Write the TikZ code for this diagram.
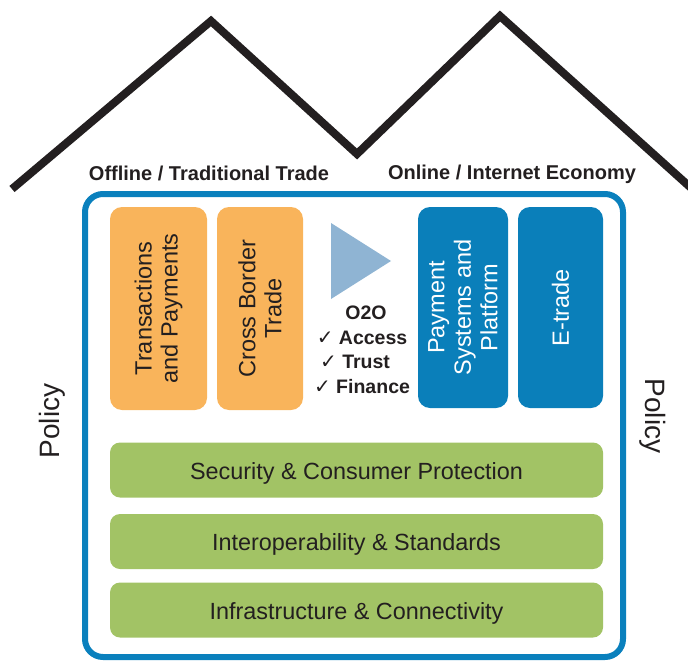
\documentclass[tikz,border=0pt]{standalone}
\usepackage{fontspec}
\setmainfont{Liberation Sans}
\newfontfamily\symfont{DejaVu Sans}
\definecolor{orangebox}{HTML}{F9B45B}
\definecolor{bluebox}{HTML}{0A7FBA}
\definecolor{outerblue}{HTML}{0A80BD}
\definecolor{greenbar}{HTML}{A2C365}
\definecolor{tri}{HTML}{8FB4D3}
\definecolor{ink}{HTML}{231F20}
\tikzset{
  obox/.style={fill=orangebox, rounded corners=12pt, inner sep=0pt, align=center, text=ink, font=\fontsize{23.5}{26}\selectfont},
  bbox/.style={fill=bluebox, rounded corners=12pt, inner sep=0pt, align=center, text=white, font=\fontsize{23.5}{26.5}\selectfont},
  gbar/.style={fill=greenbar, rounded corners=10pt, inner sep=0pt, text=ink, font=\fontsize{23.4}{26}\selectfont, minimum width=493pt, minimum height=55pt, text height=20pt, text depth=2pt},
  hdr/.style={inner sep=0pt, text=ink, font=\bfseries\fontsize{20}{22}\selectfont},
  otxt/.style={inner sep=0pt, text=ink, font=\bfseries\fontsize{19.5}{22}\selectfont},
  pol/.style={inner sep=0pt, text=ink, font=\fontsize{28}{32}\selectfont}
}
\newcommand{\ck}{{\symfont\fontsize{20}{20}\selectfont ✓}}
\begin{document}
\begin{tikzpicture}[x=1pt,y=-1pt]
\useasboundingbox (0,0) rectangle (688,661);
\clip (0,0) rectangle (688,661);
% roof
\coordinate (r1) at (12,189);
\coordinate (r2) at (211,21);
\coordinate (r3) at (357,154);
\coordinate (r4) at (500,16);
\coordinate (r5) at (700,196);
\draw[line width=8pt, line join=miter, ink] (r1) -- (r2) -- (r3) -- (r4) -- (r5);
% outer box
\draw[outerblue, line width=6pt, rounded corners=18pt] (85,194) rectangle (623,657);
% headers
\node[hdr] (h1) at (209,173) {Offline / Traditional Trade};
\node[hdr] (h2) at (512,174) {Online / Internet Economy};
% orange boxes
\node[obox, rotate=90, minimum width=203pt, minimum height=97pt] (tp) at (158.5,308.5) {Transactions\\and Payments};
\node[obox, rotate=90, minimum width=203pt, minimum height=86pt] (cb) at (260,308.5) {Cross Border\\Trade};
% blue boxes
\node[bbox, rotate=90, minimum width=201pt, minimum height=90pt] (ps) at (463,307.5) {Payment\\Systems and\\Platform};
\node[bbox, rotate=90, minimum width=201pt, minimum height=85pt] (et) at (560.5,307.5) {E-trade};
% triangle
\fill[tri] (331,223) -- (391,261) -- (331,299) -- cycle;
% O2O
\node[otxt] (o2o) at (366,313) {O2O};
\node[otxt] (acc) at (362,338) {\ck\ Access};
\node[otxt] (tru) at (355,362) {\ck\ Trust};
\node[otxt] (fin) at (362,387) {\ck\ Finance};
% green bars
\node[gbar] (sec) at (356.5,470) {Security \& Consumer Protection};
\node[gbar] (int) at (356.5,541.5) {Interoperability \& Standards};
\node[gbar] (inf) at (356.5,610) {Infrastructure \& Connectivity};
% policy
\node[pol, rotate=90] (p1) at (52,421) {Policy};
\node[pol, rotate=-90] (p2) at (653,416) {Policy};
\end{tikzpicture}
\end{document}
